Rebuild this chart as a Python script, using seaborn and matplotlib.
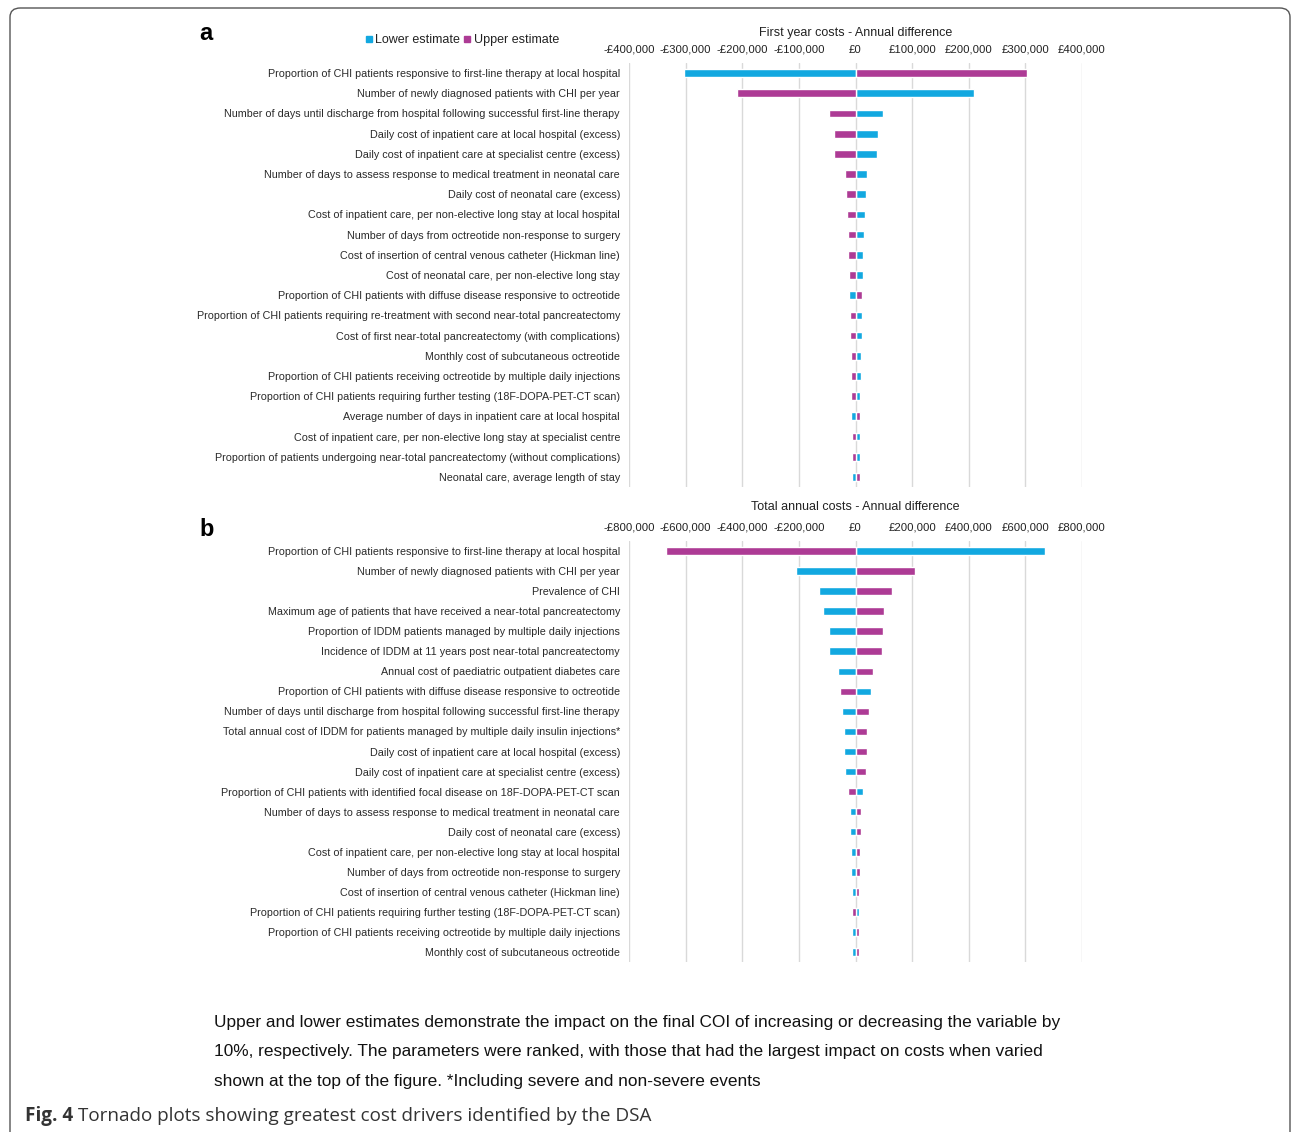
import matplotlib
matplotlib.use('Agg')
import matplotlib.pyplot as plt
from matplotlib.ticker import FuncFormatter, MultipleLocator
from matplotlib.lines import Line2D
from matplotlib.patches import FancyBboxPatch
import seaborn as sns
import pandas as pd

# Panel a - first year costs
labels_a = [
    "Proportion of CHI patients responsive to first-line therapy at local hospital",
    "Number of newly diagnosed patients with CHI per year",
    "Number of days until discharge from hospital following successful first-line therapy",
    "Daily cost of inpatient care at local hospital (excess)",
    "Daily cost of inpatient care at specialist centre (excess)",
    "Number of days to assess response to medical treatment in neonatal care",
    "Daily cost of neonatal care (excess)",
    "Cost of inpatient care, per non-elective long stay at local hospital",
    "Number of days from octreotide non-response to surgery",
    "Cost of insertion of central venous catheter (Hickman line)",
    "Cost of neonatal care, per non-elective long stay",
    "Proportion of CHI patients with diffuse disease responsive to octreotide",
    "Proportion of CHI patients requiring re-treatment with second near-total pancreatectomy",
    "Cost of first near-total pancreatectomy (with complications)",
    "Monthly cost of subcutaneous octreotide",
    "Proportion of CHI patients receiving octreotide by multiple daily injections",
    "Proportion of CHI patients requiring further testing (18F-DOPA-PET-CT scan)",
    "Average number of days in inpatient care at local hospital",
    "Cost of inpatient care, per non-elective long stay at specialist centre",
    "Proportion of patients undergoing near-total pancreatectomy (without complications)",
    "Neonatal care, average length of stay",
]
lower_a = [-302000, 210000, 48000, 40000, 38800, 20000, 18800, 16500, 15300, 14000,
           12400, -10600, 10600, 10600, 10000, 10000, 8800, -7600, 8200, 8200, -5900]
upper_a = [303000, -209000, -47600, -38800, -37600, -18800, -17600, -14700, -14000, -13500,
           -11800, 11800, -10000, -10000, -8800, -8800, -8800, 8800, -7000, -7000, 7600]

# Panel b - total annual costs
labels_b = [
    "Proportion of CHI patients responsive to first-line therapy at local hospital",
    "Number of newly diagnosed patients with CHI per year",
    "Prevalence of CHI",
    "Maximum age of patients that have received a near-total pancreatectomy",
    "Proportion of IDDM patients managed by multiple daily injections",
    "Incidence of IDDM at 11 years post near-total pancreatectomy",
    "Annual cost of paediatric outpatient diabetes care",
    "Proportion of CHI patients with diffuse disease responsive to octreotide",
    "Number of days until discharge from hospital following successful first-line therapy",
    "Total annual cost of IDDM for patients managed by multiple daily insulin injections*",
    "Daily cost of inpatient care at local hospital (excess)",
    "Daily cost of inpatient care at specialist centre (excess)",
    "Proportion of CHI patients with identified focal disease on 18F-DOPA-PET-CT scan",
    "Number of days to assess response to medical treatment in neonatal care",
    "Daily cost of neonatal care (excess)",
    "Cost of inpatient care, per non-elective long stay at local hospital",
    "Number of days from octreotide non-response to surgery",
    "Cost of insertion of central venous catheter (Hickman line)",
    "Proportion of CHI patients requiring further testing (18F-DOPA-PET-CT scan)",
    "Proportion of CHI patients receiving octreotide by multiple daily injections",
    "Monthly cost of subcutaneous octreotide",
]
lower_b = [670000, -209000, -128000, -116000, -95000, -93000, -61000, 54000, -48000, -40000,
           -40000, -38000, 26000, -19000, -19000, -15000, -15000, -14000, 14000, -14000, -14000]
upper_b = [-670000, 209000, 129000, 101000, 96000, 93000, 61000, -54000, 49000, 40000,
           40000, 38000, -26000, 19000, 19000, 15000, 15000, 14000, -14000, 14000, 14000]

BLUE = '#12a8e0'
MAGENTA = '#ad3b95'

sns.set_theme(style='white')
plt.rcParams['font.family'] = ['Liberation Sans', 'DejaVu Sans']

W, H = 1292, 1132
fig = plt.figure(figsize=(W / 100, H / 100), dpi=100)


def gbp(v, pos):
    if v < 0:
        return '-£{:,.0f}'.format(-v)
    return '£{:,.0f}'.format(v)


def tornado(ax, labels, lower, upper, lim, step, title, title_pad):
    df = pd.DataFrame({'param': labels, 'lower': lower, 'upper': upper})
    sns.barplot(data=df, x='lower', y='param', color=BLUE, width=0.38,
                saturation=1, ax=ax, orient='h')
    sns.barplot(data=df, x='upper', y='param', color=MAGENTA, width=0.38,
                saturation=1, ax=ax, orient='h')
    ax.set_xlim(-lim, lim)
    ax.xaxis.set_major_locator(MultipleLocator(step))
    ax.xaxis.set_major_formatter(FuncFormatter(gbp))
    ax.xaxis.tick_top()
    ax.tick_params(axis='x', length=0, pad=6, labelsize=8.2, labelcolor='#222222')
    ax.tick_params(axis='y', length=0, pad=6.5, labelsize=7.75, labelcolor='#2a2a2a')
    ax.grid(axis='x', color='#d9d9d9', linewidth=1)
    ax.set_axisbelow(True)
    for s in ax.spines.values():
        s.set_visible(False)
    ax.set_xlabel('')
    ax.set_ylabel('')
    ax.set_title(title, fontsize=9, color='#222222', pad=title_pad)


ax_a = fig.add_axes([629 / W, 1 - 487 / H, 453 / W, 424 / H])
tornado(ax_a, labels_a, lower_a, upper_a, 400000, 100000,
        'First year costs - Annual difference', 19.5)

ax_b = fig.add_axes([629 / W, 1 - 962 / H, 453 / W, 421 / H])
tornado(ax_b, labels_b, lower_b, upper_b, 800000, 200000,
        'Total annual costs - Annual difference', 22)

# panel letters
fig.text(199 / W, 1 - 34 / H, 'a', fontsize=17, fontweight='bold', va='center', color='black')
fig.text(199 / W, 1 - 530 / H, 'b', fontsize=17, fontweight='bold', va='center', color='black')

# legend
handles = [Line2D([], [], marker='s', linestyle='', color=BLUE, markersize=5),
           Line2D([], [], marker='s', linestyle='', color=MAGENTA, markersize=5)]
fig.legend(handles, ['Lower estimate', 'Upper estimate'], loc='center',
           bbox_to_anchor=(462 / W, 1 - 40 / H), ncol=2, frameon=False,
           fontsize=9, handlelength=0.6, handletextpad=0.2, columnspacing=0.3,
           labelcolor='#222222')

# footnote
notes = [
    "Upper and lower estimates demonstrate the impact on the final COI of increasing or decreasing the variable by",
    "10%, respectively. The parameters were ranked, with those that had the largest impact on costs when varied",
    "shown at the top of the figure. *Including severe and non-severe events",
]
for i, line in enumerate(notes):
    fig.text(214 / W, 1 - (1022 + i * 29.7) / H, line, fontsize=12.45, va='center',
             color='#111111')

renderer = fig.canvas.get_renderer()
fig_lbl = fig.text(25 / W, 1 - 1116 / H, 'Fig. 4', fontsize=13.6, fontweight='bold',
                   va='center', family='Open Sans', color='#333333')
bb = fig_lbl.get_window_extent(renderer)
fig.text((bb.x1 + 5) / W, 1 - 1116 / H,
         'Tornado plots showing greatest cost drivers identified by the DSA',
         fontsize=13.6, va='center', family='Open Sans', color='#333333')

# outer frame
frame = FancyBboxPatch((10 / W, -0.05), 1280 / W, 1.05 - 8 / H,
                       boxstyle='round,pad=0,rounding_size=0.008',
                       transform=fig.transFigure, fill=False,
                       edgecolor='#555555', linewidth=1)
fig.patches.append(frame)

fig.savefig('out.png', dpi=100)
